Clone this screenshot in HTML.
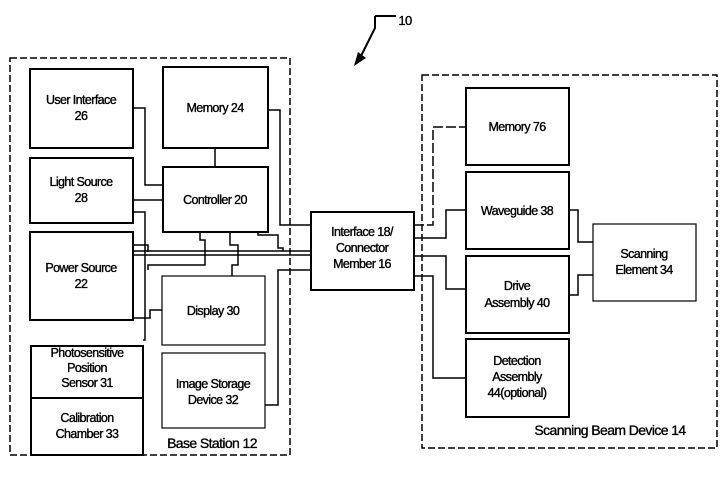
<!DOCTYPE html>
<html><head><meta charset="utf-8"><style>
body{margin:0;background:#fff;width:725px;height:473px;overflow:hidden}
svg text{font-family:"Liberation Sans",sans-serif;font-size:12.5px;fill:#000;stroke:#000;stroke-width:0.35px;text-anchor:middle;letter-spacing:-0.6px}
</style></head><body>
<svg width="725" height="473" viewBox="0 0 725 473" xmlns="http://www.w3.org/2000/svg">
<g fill="none" stroke="#000">
<rect x="10" y="58" width="280" height="397" stroke-width="1.5" stroke-dasharray="7,3"/>
<rect x="422" y="75" width="295" height="373" stroke-width="1.5" stroke-dasharray="7,3"/>
<g stroke-width="2">
<rect x="30" y="69" width="103" height="79"/>
<rect x="163" y="67" width="105" height="81"/>
<rect x="30" y="158" width="103" height="65"/>
<rect x="163" y="167" width="105" height="65"/>
<rect x="30" y="232" width="103" height="88"/>
<rect x="31" y="346" width="112" height="52"/>
<rect x="31" y="398" width="112" height="57"/>
<rect x="311" y="212" width="103" height="78"/>
<rect x="466" y="88" width="103" height="77"/>
<rect x="466" y="172" width="103" height="77"/>
<rect x="466" y="256" width="103" height="77"/>
<rect x="466" y="339" width="103" height="78"/>
</g>
<g stroke-width="1.2">
<rect x="162" y="276" width="103" height="69"/>
<rect x="162" y="353" width="103" height="75"/>
<rect x="593" y="224" width="103" height="77"/>
</g>
<g stroke-width="1.5">
<path d="M133 108H145V185H163"/>
<path d="M133 200H163"/>
<path d="M133 212H145V340H143"/>
<path d="M215 148V167"/>
<path d="M268 110H280V225H311"/>
<path d="M133 245H148V252"/>
<path d="M133 251H311M133 255H311"/>
<path d="M200 232V240H205V265H148V270"/>
<path d="M230 232V245H238V265H232V276"/>
<path d="M258 232V235H278V248H283V251"/>
<path d="M133 318H150V310H162"/>
<path d="M265 405H278V270H311"/>
<path d="M414 225H433V127H466" stroke-dasharray="10,3"/>
<path d="M414 238H446V210H466"/>
<path d="M414 256H446V289H466"/>
<path d="M414 276H433V378H466"/>
<path d="M569 210H578V242H593"/>
<path d="M569 295H578V275H593"/>
<path d="M375 16H396M375 16V28L360 58" stroke-width="2"/>
</g>
</g>
<path d="M354 66L358 52L366 58Z" fill="#000"/>
<text x="405" y="25" style="font-size:13px">10</text>
<text x="81" y="104">User Interface</text><text x="81" y="120">26</text>
<text x="215" y="112">Memory 24</text>
<text x="81" y="186">Light Source</text><text x="81" y="202">28</text>
<text x="215" y="204">Controller 20</text>
<text x="81" y="272">Power Source</text><text x="81" y="288">22</text>
<text x="213" y="315">Display 30</text>
<text x="87" y="357">Photosensitive</text><text x="87" y="372">Position</text><text x="87" y="387">Sensor 31</text>
<text x="87" y="422">Calibration</text><text x="87" y="438">Chamber 33</text>
<text x="213" y="388">Image Storage</text><text x="213" y="404">Device 32</text>
<text x="212" y="448" style="font-size:14px">Base Station 12</text>
<text x="362" y="236">Interface 18/</text><text x="362" y="252">Connector</text><text x="362" y="268">Member 16</text>
<text x="517" y="131">Memory 76</text>
<text x="517" y="215">Waveguide 38</text>
<text x="517" y="290">Drive</text><text x="517" y="307">Assembly 40</text>
<text x="517" y="365">Detection</text><text x="517" y="381">Assembly</text><text x="517" y="397">44(optional)</text>
<text x="644" y="258">Scanning</text><text x="644" y="274">Element 34</text>
<text x="610" y="435" style="font-size:14px">Scanning Beam Device 14</text>
</svg>
</body></html>
